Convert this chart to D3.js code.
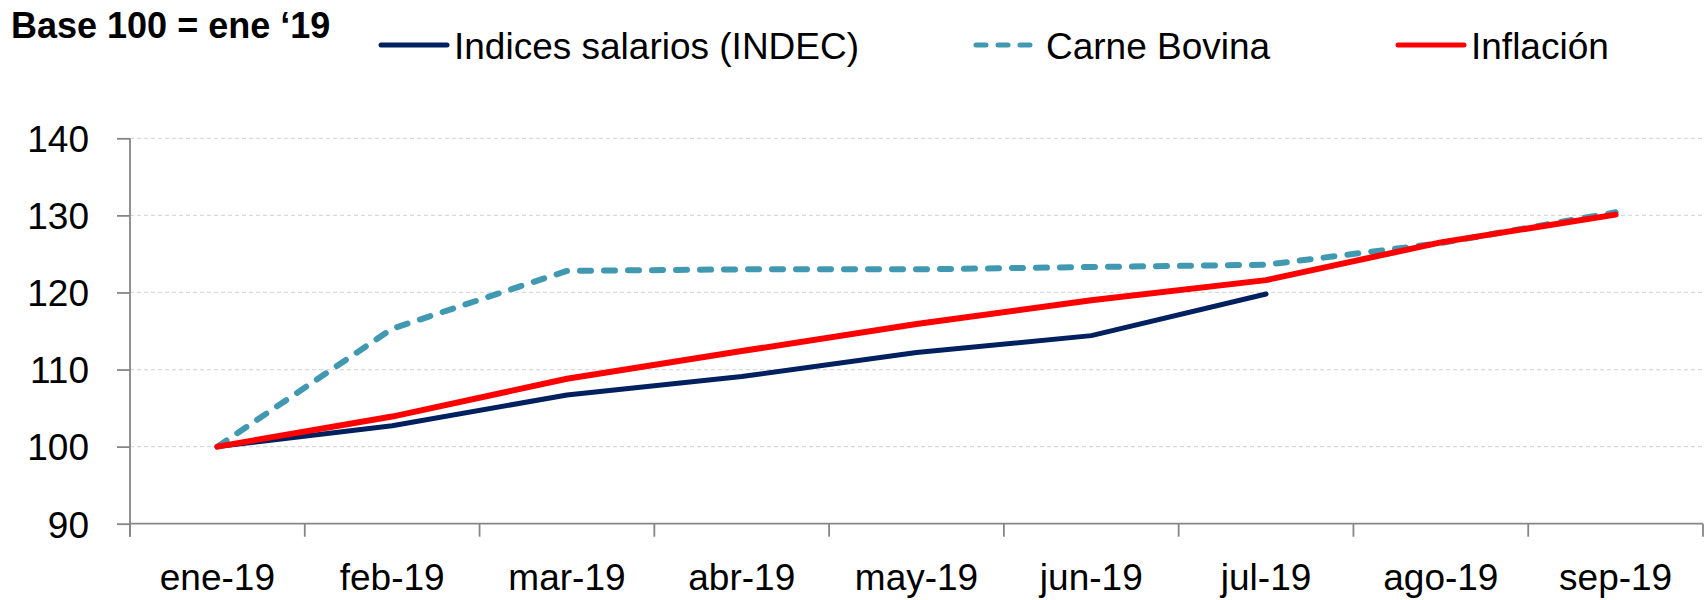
<!DOCTYPE html>
<html>
<head>
<meta charset="utf-8">
<script src="https://cdnjs.cloudflare.com/ajax/libs/d3/7.8.5/d3.min.js"></script>
<style>
  body { margin: 0; background: #fff; }
  svg { display: block; font-family: "Liberation Sans", Arial, sans-serif; }
  .grid line { stroke: #d9d9d9; stroke-width: 1.3; stroke-dasharray: 4 3; }
  .axis path, .axis line { stroke: #868686; stroke-width: 1.8; }
  .axis text { font-size: 37px; fill: #000; }
</style>
</head>
<body>
<svg id="chart" width="1708" height="600"></svg>
<script>
"use strict";

// categories and series, base 100 = ene-19
var months = ["ene-19", "feb-19", "mar-19", "abr-19", "may-19", "jun-19", "jul-19", "ago-19", "sep-19"];
var salarios = [100, 102.7, 106.7, 109.1, 112.2, 114.4, 119.8];
var carne = [100, 115.3, 122.8, 123.0, 123.0, 123.3, 123.6, 126.4, 130.4];
var inflacion = [100, 103.9, 108.8, 112.4, 115.9, 119.0, 121.6, 126.5, 130.1];
var yTicks = [90, 100, 110, 120, 130, 140];

var series = [
  { name: "Indices salarios (INDEC)", values: salarios, color: "#002060", width: 5, dash: null, lx: 381, tx: 454 },
  { name: "Carne Bovina", values: carne, color: "#4198b1", width: 6, dash: "11 13", lx: 976, tx: 1046 },
  { name: "Inflación", values: inflacion, color: "#ff0000", width: 6, dash: null, lx: 1398, tx: 1471 }
];

var plotLeft = 130, plotRight = 1703, plotTop = 138.3, plotBottom = 523.7;

var svg = d3.select("#chart");

var x = d3.scaleBand().domain(months).range([plotLeft, plotRight]).padding(0);
var y = d3.scaleLinear().domain([90, 140]).range([plotBottom, plotTop]);

// gridlines
svg.append("g").attr("class", "grid")
  .selectAll("line")
  .data(yTicks.filter(function (d) { return d > 90; }))
  .enter().append("line")
    .attr("x1", plotLeft).attr("x2", plotRight)
    .attr("y1", function (d) { return y(d); })
    .attr("y2", function (d) { return y(d); });

// y axis
var yAxis = svg.append("g").attr("class", "axis")
  .attr("transform", "translate(" + plotLeft + ",0)")
  .call(d3.axisLeft(y).tickValues(yTicks).tickSize(13).tickPadding(28).tickSizeOuter(0));
yAxis.select(".domain").attr("d", "M0," + plotTop + "V" + (plotBottom + 13));
yAxis.selectAll("text").attr("dy", "0.36em");

// x axis: labels centred, ticks between categories
var xAxis = svg.append("g").attr("class", "axis")
  .attr("transform", "translate(0," + plotBottom + ")")
  .call(d3.axisBottom(x).tickSize(0).tickSizeOuter(0));
xAxis.select(".domain").attr("d", "M" + plotLeft + ",0H" + plotRight);
xAxis.selectAll("text").attr("y", 66).attr("dy", 0);

xAxis.selectAll(".sep")
  .data(months.map(function (m) { return x(m); }).concat([plotRight]))
  .enter().append("line")
    .attr("class", "sep")
    .attr("x1", function (d) { return d; }).attr("x2", function (d) { return d; })
    .attr("y1", 0).attr("y2", 13);

// lines
var line = d3.line()
  .x(function (d, i) { return x(months[i]) + x.bandwidth() / 2; })
  .y(function (d) { return y(d); });

svg.selectAll(".series")
  .data(series)
  .enter().append("path")
    .attr("class", "series")
    .attr("fill", "none")
    .attr("stroke", function (d) { return d.color; })
    .attr("stroke-width", function (d) { return d.width; })
    .attr("stroke-dasharray", function (d) { return d.dash; })
    .attr("stroke-linecap", "round")
    .attr("stroke-linejoin", "round")
    .attr("d", function (d) { return line(d.values); });

// title
svg.append("text")
  .attr("x", 11).attr("y", 38)
  .attr("font-size", 36).attr("font-weight", "bold")
  .text("Base 100 = ene \u201819");

// legend
var leg = svg.selectAll(".legend")
  .data(series)
  .enter().append("g").attr("class", "legend");

leg.append("line")
  .attr("x1", function (d) { return d.lx; })
  .attr("x2", function (d) { return d.lx + 66; })
  .attr("y1", 45).attr("y2", 45)
  .attr("stroke", function (d) { return d.color; })
  .attr("stroke-width", 5)
  .attr("stroke-linecap", "round")
  .attr("stroke-dasharray", function (d) { return d.dash ? "10 12" : null; });

leg.append("text")
  .attr("x", function (d) { return d.tx; })
  .attr("y", 59)
  .attr("font-size", 37)
  .text(function (d) { return d.name; });
</script>
</body>
</html>
